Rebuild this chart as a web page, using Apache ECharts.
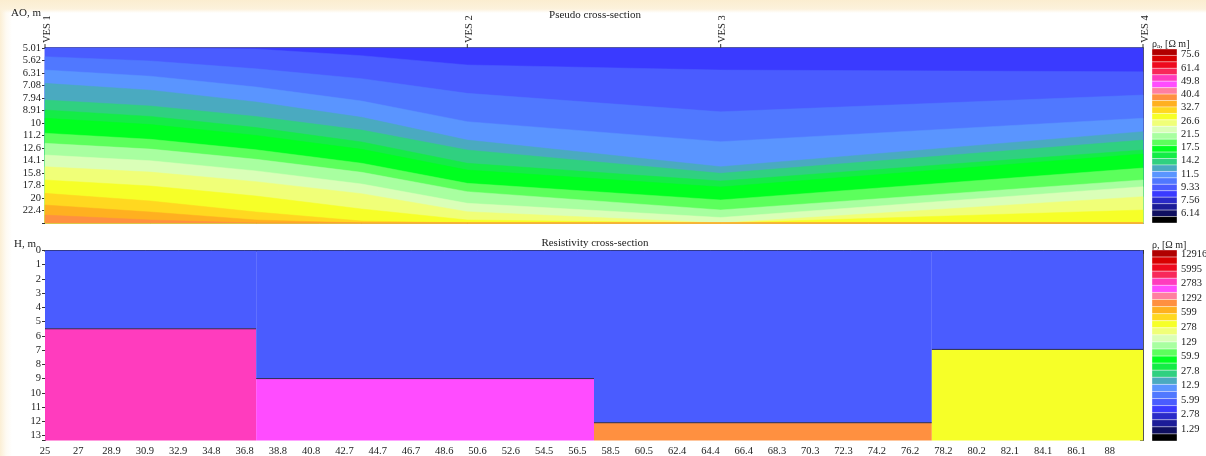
<!DOCTYPE html>
<html><head><meta charset="utf-8">
<script src="https://cdn.jsdelivr.net/npm/echarts@6/dist/echarts.min.js"></script>
<style>
html,body{margin:0;padding:0;width:1206px;height:456px;overflow:hidden;}
body{background:
 linear-gradient(to bottom, rgba(251,237,208,1) 0px, rgba(252,241,218,0.95) 9px, rgba(255,255,255,0) 13px),
 linear-gradient(to right, rgba(251,237,208,0.9) 0px, rgba(253,245,228,0.5) 6px, rgba(255,255,255,0) 12px),
 #ffffff;}
#c{width:1206px;height:456px;}
</style></head><body><div id="c"></div>
<script>
// ---------- data ----------
const VES_NAMES = ['VES 1', 'VES 2', 'VES 3', 'VES 4'];
const VES_X = [25, 50, 65, 90];
const X_TICKS = ['25','27','28.9','30.9','32.9','34.8','36.8','38.8','40.8','42.7','44.7','46.7','48.6','50.6','52.6','54.5','56.5','58.5','60.5','62.4','64.4','66.4','68.3','70.3','72.3','74.2','76.2','78.2','80.2','82.1','84.1','86.1','88'];
const AO_TICKS = ['5.01','5.62','6.31','7.08','7.94','8.91','10','11.2','12.6','14.1','15.8','17.8','20','22.4'];
const H_TICKS = ['0','1','2','3','4','5','6','7','8','9','10','11','12','13'];
const RHOA_LEGEND = ['75.6','61.4','49.8','40.4','32.7','26.6','21.5','17.5','14.2','11.5','9.33','7.56','6.14'];
const RHO_LEGEND = ['12916','5995','2783','1292','599','278','129','59.9','27.8','12.9','5.99','2.78','1.29'];
const PALETTE = ['#B00000','#D80000','#EE0A1E','#F8285A','#FF3CBE','#FF4CFF','#FF7FA0','#FF9040','#FFB020','#FFD820',
  '#F6FF28','#F0FF78','#DAFFB8','#A8FFA0','#5CFF5C','#00FF20','#14EC46','#30D080','#4AAAC0','#5A95FF',
  '#5078FF','#4A5CFF','#3A3AFF','#2A2AC8','#1C1C98','#101060','#000000'];

// Pseudo cross-section: apparent resistivity of each band (top -> bottom)
const PSEUDO_BAND_RHOA = [8.0, 8.85, 9.8, 10.9, 12.1, 13.4, 14.9, 16.6, 18.4, 20.4, 22.7, 25.2, 28.0, 31.1, 34.5, 38.3];
// profile positions (m) where the contour depths were read
const CONTOUR_X = [25, 31.25, 37.5, 43.75, 50, 65, 90];
// AO (m) at which each contour between consecutive bands crosses each profile position
const VES1_CONTOUR_AO = [5.01, 5.43, 6.14, 6.94, 8.09, 8.87, 9.57, 10.99, 12.06, 13.43, 14.96, 16.90, 19.11, 21.28, 23.34];
const X31_CONTOUR_AO  = [5.01, 5.65, 6.50, 7.39, 8.55, 9.41, 10.14, 11.62, 12.72, 14.16, 15.72, 17.87, 20.51, 22.70, 24.43];
const X37_CONTOUR_AO  = [5.06, 6.07, 7.18, 8.24, 9.42, 10.43, 11.21, 12.80, 13.97, 15.55, 17.16, 19.59, 22.70, 24.43, 25.12];
const X44_CONTOUR_AO  = [5.38, 6.65, 8.17, 9.49, 10.67, 11.91, 12.74, 14.49, 15.75, 17.54, 19.18, 22.08, 24.66, 25.12, 25.12];
const VES2_CONTOUR_AO = [5.86, 7.61, 9.88, 11.70, 12.82, 14.49, 15.42, 17.43, 18.83, 20.95, 22.64, 24.43, 25.12, 25.12, 25.12];
const VES3_CONTOUR_AO = [6.14, 9.02, 11.88, 14.96, 15.89, 17.06, 18.03, 20.32, 22.28, 23.88, 25.12, 25.12, 25.12, 25.12, 25.12];
const VES4_CONTOUR_AO = [6.24, 7.73, 9.57, 10.83, 11.70, 12.82, 13.30, 15.14, 16.90, 17.98, 19.71, 22.28, 25.12, 25.12, 25.12];

// Resistivity cross-section (two-layer models per VES segment)
const SEGMENT_EDGES_X = [25, 37.5, 57.5, 77.5, 90];
const LAYER1_BASE_H = [5.5, 9.0, 12.1, 6.95];
const LAYER1_RHO = [4.9, 4.9, 4.9, 4.9];
const LAYER2_RHO = [3370, 2390, 1070, 337];

// ---------- helpers ----------
const FONT = 'Liberation Serif';
const TXT = '#222';
const AO_MIN_LOG = 0.7, AO_MAX_LOG = 1.4, AO_STEP_LOG = 0.05;
const H_MAX = 13.35;
const X_MIN = VES_X[0], X_MAX = VES_X[VES_X.length - 1];
const X_STEP = (X_MAX - X_MIN) / X_TICKS.length;
const CONTOURS = [VES1_CONTOUR_AO, X31_CONTOUR_AO, X37_CONTOUR_AO, X44_CONTOUR_AO, VES2_CONTOUR_AO, VES3_CONTOUR_AO, VES4_CONTOUR_AO];

function legendColor(v, labels) {
  const hi = Math.log(parseFloat(labels[0]));
  const lo = Math.log(parseFloat(labels[labels.length - 1]));
  const perStripe = (hi - lo) / (labels.length - 1) / 2;
  let s = Math.floor(1 + (hi - Math.log(v)) / perStripe);
  s = Math.max(0, Math.min(PALETTE.length - 1, s));
  return PALETTE[s];
}

function renderBand(params, api) {
  const i = params.dataIndex;
  const pts = [];
  CONTOUR_X.forEach((x, j) => {
    const yLog = i === 0 ? AO_MIN_LOG : Math.log10(CONTOURS[j][i - 1]);
    pts.push(api.coord([x, yLog]));
  });
  for (let j = CONTOUR_X.length - 1; j >= 0; j--) pts.push(api.coord([CONTOUR_X[j], AO_MAX_LOG]));
  const c = legendColor(PSEUDO_BAND_RHOA[i], RHOA_LEGEND);
  return { type: 'polygon', shape: { points: pts }, style: { fill: c, stroke: c, lineWidth: 0.5 } };
}

function renderLayers(params, api) {
  const i = params.dataIndex;
  const a = api.coord([SEGMENT_EDGES_X[i], 0]);
  const m = api.coord([SEGMENT_EDGES_X[i + 1], LAYER1_BASE_H[i]]);
  const b = api.coord([SEGMENT_EDGES_X[i + 1], H_MAX]);
  return { type: 'group', children: [
    { type: 'rect', shape: { x: a[0], y: a[1], width: m[0] - a[0], height: m[1] - a[1] },
      style: { fill: legendColor(LAYER1_RHO[i], RHO_LEGEND) } },
    { type: 'rect', shape: { x: a[0], y: m[1], width: m[0] - a[0], height: b[1] - m[1] },
      style: { fill: legendColor(LAYER2_RHO[i], RHO_LEGEND) } },
    { type: 'line', shape: { x1: a[0], y1: m[1], x2: m[0], y2: m[1] },
      style: { stroke: '#2a2a50', lineWidth: 1 } }
  ]};
}

function renderStripe(params, api) {
  const s = params.dataIndex;
  const p0 = api.coord([0, s]);
  const p1 = api.coord([1, s + 1]);
  return { type: 'rect', shape: { x: p0[0], y: p0[1], width: p1[0] - p0[0], height: p1[1] - p0[1] },
    style: { fill: PALETTE[s], stroke: 'rgba(255,255,255,0.45)', lineWidth: 0.8 } };
}

function renderVes(params, api) {
  const i = params.dataIndex;
  const p = api.coord([VES_X[i], AO_MIN_LOG]);
  return { type: 'group', children: [
    { type: 'line', shape: { x1: p[0], y1: p[1] - 4, x2: p[0], y2: p[1] }, style: { stroke: '#333', lineWidth: 1 } },
    { type: 'text', x: p[0] + 2, y: p[1] - 5, rotation: Math.PI / 2,
      style: { text: VES_NAMES[i], font: '10.5px ' + FONT, fill: TXT, align: 'left', verticalAlign: 'middle' } }
  ]};
}

const lbl = (extra) => Object.assign({ fontFamily: FONT, fontSize: 10.5, color: TXT }, extra);
const hidden = (gi, extra) => Object.assign({ gridIndex: gi, type: 'value', show: false, min: 0, max: 1 }, extra || {});
const G = (o) => Object.assign({ outerBoundsMode: 'none', containLabel: false }, o);

const option = {
  animation: false,
  grid: [
    G({ left: 45, top: 48, width: 1098, height: 175 }),
    G({ left: 45, top: 250.5, width: 1098, height: 190 }),
    G({ left: 1152, top: 49, width: 25, height: 174 }),
    G({ left: 1152, top: 54.5, width: 25, height: 159 }),
    G({ left: 1152, top: 250, width: 25, height: 191 }),
    G({ left: 1152, top: 254.5, width: 25, height: 174.5 })
  ],
  xAxis: [
    { gridIndex: 0, type: 'value', min: X_MIN, max: X_MAX, position: 'bottom',
      axisLine: { show: true, lineStyle: { color: '#7d8070', width: 1 } }, axisTick: { show: false },
      axisLabel: { show: false }, splitLine: { show: false } },
    { gridIndex: 0, type: 'value', min: X_MIN, max: X_MAX, position: 'top',
      axisLine: { show: true, lineStyle: { color: '#283060', width: 1.5 } }, axisTick: { show: false },
      axisLabel: { show: false }, splitLine: { show: false } },
    { gridIndex: 1, type: 'value', min: X_MIN, max: X_MAX, interval: X_STEP, position: 'bottom',
      axisLine: { show: true, lineStyle: { color: '#333', width: 1 } },
      axisTick: { show: true, length: 3, lineStyle: { color: '#333' } },
      axisLabel: lbl({ margin: 5, formatter: (v) => {
        const k = Math.round((v - X_MIN) / X_STEP);
        return Math.abs(v - (X_MIN + k * X_STEP)) < 1e-6 ? (X_TICKS[k] || '') : '';
      } }), splitLine: { show: false } },
    { gridIndex: 1, type: 'value', min: X_MIN, max: X_MAX, position: 'top',
      axisLine: { show: true, lineStyle: { color: '#111', width: 1.5 } }, axisTick: { show: false },
      axisLabel: { show: false }, splitLine: { show: false } },
    hidden(2), hidden(3), hidden(4), hidden(5)
  ],
  yAxis: [
    { gridIndex: 0, type: 'value', min: AO_MIN_LOG, max: AO_MAX_LOG, interval: AO_STEP_LOG, inverse: true, position: 'left',
      axisLine: { show: true, lineStyle: { color: '#333' } },
      axisTick: { show: true, length: 3, lineStyle: { color: '#333' } },
      axisLabel: lbl({ margin: 4, formatter: (v) => {
        const k = Math.round((v - AO_MIN_LOG) / AO_STEP_LOG);
        return Math.abs(v - (AO_MIN_LOG + k * AO_STEP_LOG)) < 1e-6 ? (AO_TICKS[k] || '') : '';
      } }), splitLine: { show: false } },
    { gridIndex: 0, type: 'value', min: AO_MIN_LOG, max: AO_MAX_LOG, interval: AO_STEP_LOG, inverse: true, position: 'right',
      axisLine: { show: true, lineStyle: { color: '#555' } },
      axisTick: { show: true, inside: true, length: 3, lineStyle: { color: '#444' } },
      axisLabel: { show: false }, splitLine: { show: false } },
    { gridIndex: 1, type: 'value', min: 0, max: H_MAX, interval: 1, inverse: true, position: 'left',
      axisLine: { show: true, lineStyle: { color: '#333' } },
      axisTick: { show: true, length: 3, lineStyle: { color: '#333' } },
      axisLabel: lbl({ margin: 4, formatter: (v) => {
        const k = Math.round(v);
        return Math.abs(v - k) < 1e-6 ? (H_TICKS[k] || '') : '';
      } }), splitLine: { show: false } },
    { gridIndex: 1, type: 'value', min: 0, max: H_MAX, interval: 1, inverse: true, position: 'right',
      axisLine: { show: true, lineStyle: { color: '#555' } },
      axisTick: { show: true, inside: true, length: 3, lineStyle: { color: '#444' } },
      axisLabel: { show: false }, splitLine: { show: false } },
    hidden(2, { max: PALETTE.length, inverse: true }),
    { gridIndex: 3, type: 'value', min: 0, max: RHOA_LEGEND.length - 1, interval: 1, inverse: true, position: 'right',
      axisLine: { show: false }, axisTick: { show: false }, splitLine: { show: false },
      axisLabel: lbl({ margin: 4, formatter: (v) => RHOA_LEGEND[Math.round(v)] || '' }) },
    hidden(4, { max: PALETTE.length, inverse: true }),
    { gridIndex: 5, type: 'value', min: 0, max: RHO_LEGEND.length - 1, interval: 1, inverse: true, position: 'right',
      axisLine: { show: false }, axisTick: { show: false }, splitLine: { show: false },
      axisLabel: lbl({ margin: 4, formatter: (v) => RHO_LEGEND[Math.round(v)] || '' }) }
  ],
  graphic: [
    { type: 'text', x: 595, y: 15, style: { text: 'Pseudo cross-section', font: '11px ' + FONT, fill: TXT, align: 'center', verticalAlign: 'middle' } },
    { type: 'text', x: 595, y: 243, style: { text: 'Resistivity cross-section', font: '11px ' + FONT, fill: TXT, align: 'center', verticalAlign: 'middle' } },
    { type: 'text', x: 11, y: 13, style: { text: 'AO, m', font: '11px ' + FONT, fill: TXT, align: 'left', verticalAlign: 'middle' } },
    { type: 'text', x: 14, y: 244, style: { text: 'H, m', font: '11px ' + FONT, fill: TXT, align: 'left', verticalAlign: 'middle' } },
    { type: 'text', x: 1152, y: 44, style: { text: 'ρ{s|a}, [Ω m]', font: '10px ' + FONT, fill: TXT, align: 'left', verticalAlign: 'middle',
      rich: { s: { fontSize: 7, fontFamily: FONT, padding: [5, 0, 0, 0], fill: TXT } } } },
    { type: 'text', x: 1152, y: 245, style: { text: 'ρ, [Ω m]', font: '10px ' + FONT, fill: TXT, align: 'left', verticalAlign: 'middle' } }
  ],
  series: [
    { type: 'custom', name: 'pseudo', coordinateSystem: 'cartesian2d', xAxisIndex: 0, yAxisIndex: 0,
      renderItem: renderBand, encode: { x: 0, y: 1 },
      data: PSEUDO_BAND_RHOA.map((r) => [X_MIN, AO_MIN_LOG, r]), z: 1 },
    { type: 'custom', name: 'ves', coordinateSystem: 'cartesian2d', xAxisIndex: 0, yAxisIndex: 0,
      renderItem: renderVes, encode: { x: 0, y: 1 },
      data: VES_X.map((x) => [x, AO_MIN_LOG]), z: 5 },
    { type: 'custom', name: 'layers', coordinateSystem: 'cartesian2d', xAxisIndex: 2, yAxisIndex: 2,
      renderItem: renderLayers, encode: { x: 0, y: 1 },
      data: LAYER2_RHO.map((r, i) => [SEGMENT_EDGES_X[i], 0, r]), z: 1 },
    { type: 'custom', name: 'barTop', coordinateSystem: 'cartesian2d', xAxisIndex: 4, yAxisIndex: 4,
      renderItem: renderStripe, encode: { x: 0, y: 1 },
      data: PALETTE.map((c, s) => [0, s]) },
    { type: 'custom', name: 'barBottom', coordinateSystem: 'cartesian2d', xAxisIndex: 6, yAxisIndex: 6,
      renderItem: renderStripe, encode: { x: 0, y: 1 },
      data: PALETTE.map((c, s) => [0, s]) }
  ]
};
const chart = echarts.init(document.getElementById('c'));
chart.setOption(option);
</script></body></html>
